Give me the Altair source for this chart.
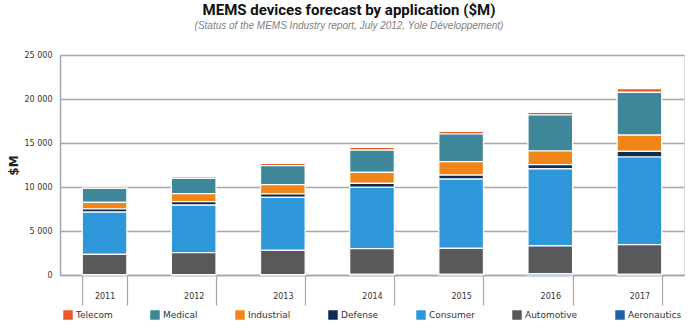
import altair as alt
import pandas as pd

years = ["2011", "2012", "2013", "2014", "2015", "2016", "2017"]
categories = ["Telecom", "Medical", "Industrial", "Defense", "Consumer", "Automotive", "Aeronautics"]
colors = ["#e65a2b", "#3e8798", "#f0861a", "#0c2b57", "#2e97da", "#58595b", "#1c5fab"]

aeronautics = [50, 50, 50, 60, 70, 150, 80]
automotive = [2300, 2480, 2750, 2930, 2960, 3150, 3370]
consumer = [4800, 5400, 6030, 6980, 7870, 8750, 9960]
defense = [350, 400, 400, 450, 460, 490, 640]
industrial = [750, 910, 1050, 1250, 1520, 1550, 1850]
medical = [1600, 1750, 2150, 2530, 3140, 4090, 4860]
telecom = [180, 180, 250, 310, 310, 310, 410]

series = {
    "Telecom": telecom, "Medical": medical, "Industrial": industrial, "Defense": defense,
    "Consumer": consumer, "Automotive": automotive, "Aeronautics": aeronautics,
}
stack_rank = {c: 6 - i for i, c in enumerate(categories)}

rows = []
for cat, vals in series.items():
    for y, v in zip(years, vals):
        rows.append({"year": y, "app": cat, "value": v, "rank": stack_rank[cat]})
df = pd.DataFrame(rows)

chart = alt.Chart(df).mark_bar(stroke="white", strokeWidth=1.2).encode(
    x=alt.X("year:N", scale=alt.Scale(paddingInner=0.5, paddingOuter=0.25),
            axis=alt.Axis(title=None, labelAngle=0, tickBand="extent", tickSize=30,
                          tickColor="#a6a6a6", tickWidth=1.2, domainColor="#a6a6a6",
                          domainWidth=1.5, labelPadding=-9, labelBaseline="middle",
                          labelFont="DejaVu Sans", labelFontSize=8, labelColor="#333333")),
    y=alt.Y("value:Q", stack="zero", scale=alt.Scale(domain=[0, 25000]),
            axis=alt.Axis(title="$M", values=[0, 5000, 10000, 15000, 20000, 25000],
                          labelExpr="replace(format(datum.value, ','), ',', ' ')",
                          ticks=False, grid=True, gridColor="#a6a6a6", gridWidth=1.5,
                          domainColor="#a6a6a6", domainWidth=1.5,
                          labelPadding=8, labelFont="DejaVu Sans", labelFontSize=8,
                          labelColor="#333333", titleFont="DejaVu Sans",
                          titleFontSize=12, titleFontWeight="bold", titleColor="#222222",
                          titlePadding=4)),
    color=alt.Color("app:N", scale=alt.Scale(domain=categories, range=colors),
                    legend=alt.Legend(title=None, orient="none", direction="horizontal",
                                      columns=7, legendX=3, legendY=255,
                                      symbolType="square", symbolSize=90,
                                      symbolStrokeWidth=0, labelOffset=3,
                                      columnPadding=37, labelFont="DejaVu Sans",
                                      labelFontSize=9, labelColor="#333333")),
    order=alt.Order("rank:Q", sort="ascending"),
).properties(
    width=624,
    height=220,
    title=alt.TitleParams(
        text="MEMS devices forecast by application ($M)",
        subtitle="(Status of the MEMS Industry report, July 2012, Yole Développement)",
        anchor="middle", dx=-23, offset=20,
        font="Roboto", fontSize=15, fontWeight="bold", color="#111111",
        subtitleFont="Liberation Sans", subtitleFontSize=10,
        subtitleFontStyle="italic", subtitleColor="#808080", subtitlePadding=3,
    ),
    autosize=alt.AutoSizeParams(type="none"),
    padding={"left": 60, "top": 55, "right": 14, "bottom": 53},
).configure_view(stroke=None).configure(background="white")

chart.save("out.html", embed_options={"renderer": "svg", "actions": False})
